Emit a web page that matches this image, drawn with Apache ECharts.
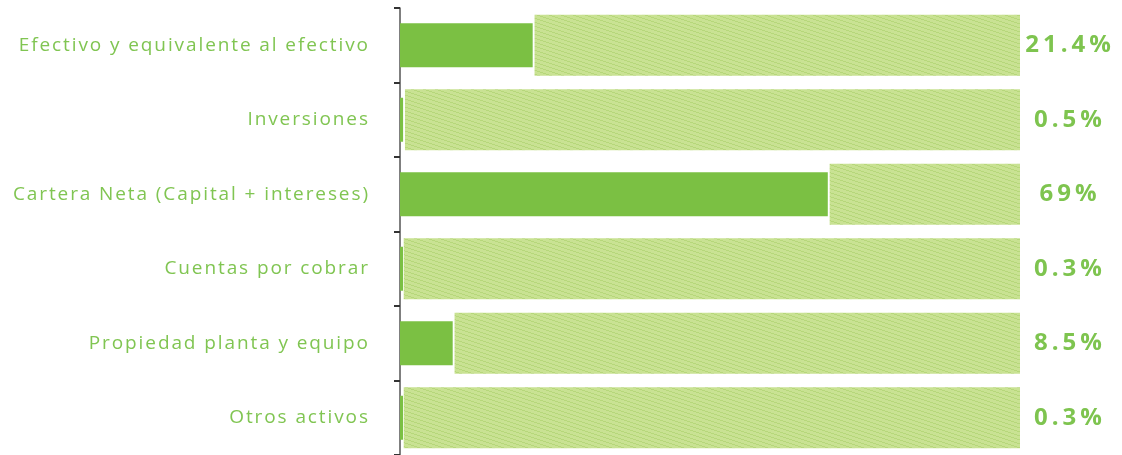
<!DOCTYPE html>
<html>
<head>
    <meta http-equiv="Content-Type" content="text/html; charset=utf-8" />
    <title>Composición de activos</title>
    <script src="https://cdn.jsdelivr.net/npm/echarts@6/dist/echarts.min.js"></script>
    <style>
        html, body { margin: 0; padding: 0; background: #fff; }
        #div1 { width: 1122px; height: 455px; }
    </style>
</head>
<body>
    <div id="div1"></div>
    <script type="text/javascript">
        var categorias = ['Efectivo y equivalente al efectivo', 'Inversiones', 'Cartera Neta (Capital + intereses)',
            'Cuentas por cobrar', 'Propiedad planta y equipo', 'Otros activos'];
        var valores = [21.4, 0.5, 69, 0.3, 8.5, 0.3];
        var etiquetas = ['21.4%', '0.5%', '69%', '0.3%', '8.5%', '0.3%'];

        // espaciado entre letras (ECharts no tiene letterSpacing)
        function espaciar(s, sep) {
            return s.split('').join(sep);
        }

        // relleno rayado del fondo
        function rayado() {
            var c = document.createElement('canvas');
            c.width = 12; c.height = 4;
            var ctx = c.getContext('2d');
            ctx.fillStyle = '#c9e293';
            ctx.fillRect(0, 0, 12, 4);
            ctx.fillStyle = '#b6d77a';
            for (var y = 0; y < 4; y++) {
                for (var x = 0; x < 12; x++) {
                    if (((x - 3 * y) % 12 + 12) % 12 < 3) ctx.fillRect(x, y, 1, 1);
                }
            }
            return c;
        }

        var espacio = valores.map(function (v) { return v + 0.3; });
        var resto = valores.map(function (v) { return 100 - v - 0.3; });

        var myChart = echarts.init(document.getElementById('div1'));
        var option = {
            animation: false,
            grid: { left: 400, right: 102, top: 8, bottom: 0 },
            xAxis: { type: 'value', min: 0, max: 100, show: false },
            yAxis: [{
                type: 'category',
                inverse: true,
                data: categorias,
                axisLine: { show: true, lineStyle: { color: '#555', width: 1.5 } },
                axisTick: { show: true, interval: 0, length: 6, lineStyle: { color: '#333', width: 2 } },
                axisLabel: {
                    margin: 32,
                    color: '#80c552',
                    fontFamily: 'Open Sans',
                    fontSize: 19,
                    formatter: function (s) { return espaciar(s, '\u200A'); }
                }
            }, {
                type: 'category',
                inverse: true,
                data: categorias,
                show: false
            }],
            series: [{
                type: 'bar',
                yAxisIndex: 1,
                stack: 'fondo',
                barWidth: 61,
                data: espacio,
                itemStyle: { color: 'rgba(0,0,0,0)' },
                silent: true
            }, {
                type: 'bar',
                yAxisIndex: 1,
                stack: 'fondo',
                barWidth: 61,
                data: resto,
                itemStyle: { color: { image: rayado(), repeat: 'repeat' } },
                label: {
                    show: true,
                    position: ['100%', '50%'],
                    offset: [48, 0],
                    align: 'center',
                    verticalAlign: 'middle',
                    color: '#7ec44f',
                    fontFamily: 'Open Sans',
                    fontWeight: 'bold',
                    fontSize: 24,
                    formatter: function (p) { return espaciar(etiquetas[p.dataIndex], '\u2009'); }
                }
            }, {
                type: 'bar',
                yAxisIndex: 0,
                barWidth: 44,
                barMinHeight: 3,
                data: valores,
                itemStyle: { color: '#7bc043' }
            }]
        };
        myChart.setOption(option);
    </script>
</body>
</html>
